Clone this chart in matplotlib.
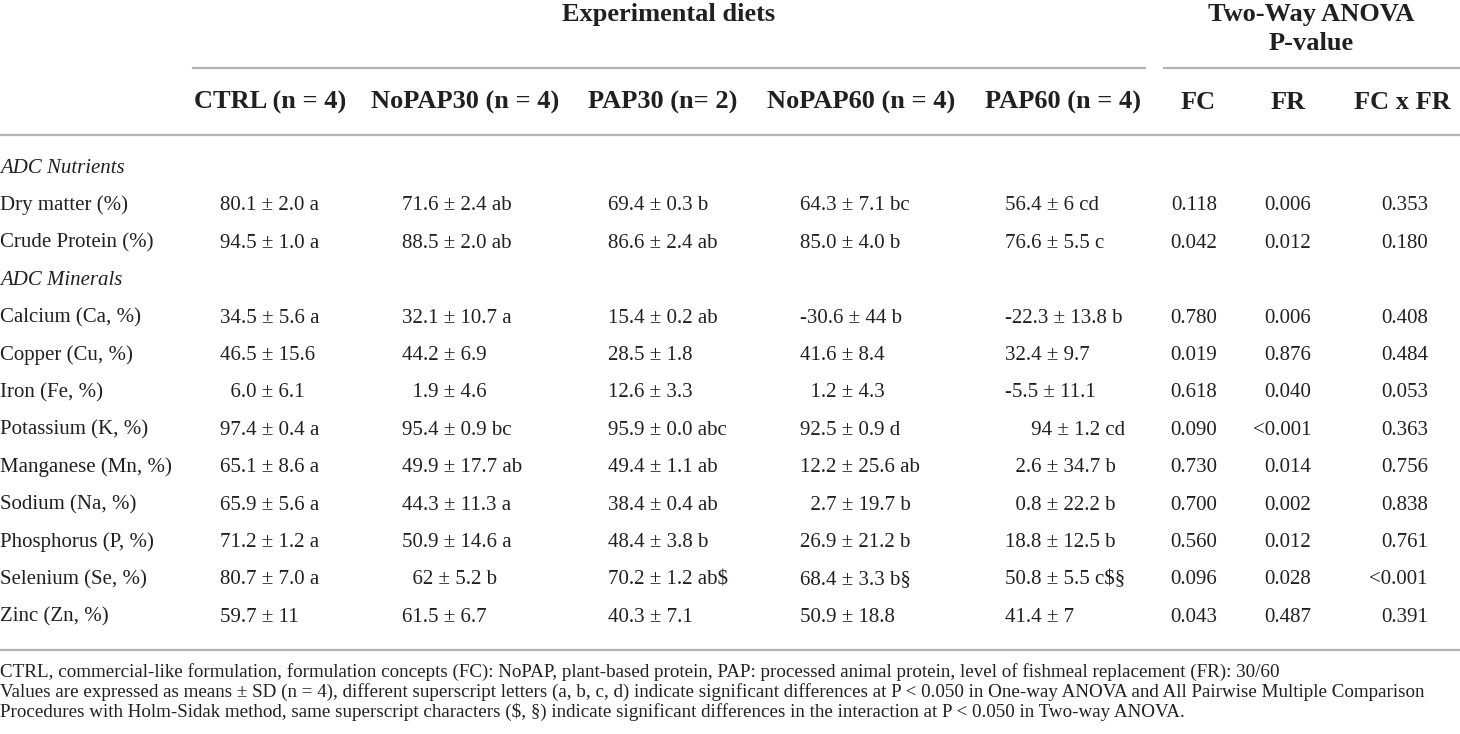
import matplotlib
matplotlib.use('Agg')
import matplotlib.pyplot as plt

plt.rcParams['font.family'] = ['Liberation Serif', 'DejaVu Serif']

group_headers = ['Experimental diets', 'Two-Way ANOVA', 'P-value']
col_headers = ['CTRL (n = 4)', 'NoPAP30 (n = 4)', 'PAP30 (n= 2)', 'NoPAP60 (n = 4)',
               'PAP60 (n = 4)', 'FC', 'FR', 'FC x FR']

row_labels = ['ADC Nutrients', 'Dry matter (%)', 'Crude Protein (%)', 'ADC Minerals',
              'Calcium (Ca, %)', 'Copper (Cu, %)', 'Iron (Fe, %)', 'Potassium (K, %)',
              'Manganese (Mn, %)', 'Sodium (Na, %)', 'Phosphorus (P, %)',
              'Selenium (Se, %)', 'Zinc (Zn, %)']
section_rows = ['ADC Nutrients', 'ADC Minerals']   # drawn in italics, no values

ctrl = ['80.1 ± 2.0 a', '94.5 ± 1.0 a', '34.5 ± 5.6 a', '46.5 ± 15.6', '  6.0 ± 6.1',
        '97.4 ± 0.4 a', '65.1 ± 8.6 a', '65.9 ± 5.6 a', '71.2 ± 1.2 a', '80.7 ± 7.0 a',
        '59.7 ± 11']
nopap30 = ['71.6 ± 2.4 ab', '88.5 ± 2.0 ab', '32.1 ± 10.7 a', '44.2 ± 6.9', '  1.9 ± 4.6',
           '95.4 ± 0.9 bc', '49.9 ± 17.7 ab', '44.3 ± 11.3 a', '50.9 ± 14.6 a',
           '  62 ± 5.2 b', '61.5 ± 6.7']
pap30 = ['69.4 ± 0.3 b', '86.6 ± 2.4 ab', '15.4 ± 0.2 ab', '28.5 ± 1.8', '12.6 ± 3.3',
         '95.9 ± 0.0 abc', '49.4 ± 1.1 ab', '38.4 ± 0.4 ab', '48.4 ± 3.8 b',
         '70.2 ± 1.2 ab$', '40.3 ± 7.1']
nopap60 = ['64.3 ± 7.1 bc', '85.0 ± 4.0 b', '-30.6 ± 44 b', '41.6 ± 8.4', '  1.2 ± 4.3',
           '92.5 ± 0.9 d', '12.2 ± 25.6 ab', '  2.7 ± 19.7 b', '26.9 ± 21.2 b',
           '68.4 ± 3.3 b§', '50.9 ± 18.8']
pap60 = ['56.4 ± 6 cd', '76.6 ± 5.5 c', '-22.3 ± 13.8 b', '32.4 ± 9.7', '-5.5 ± 11.1',
         '     94 ± 1.2 cd', '  2.6 ± 34.7 b', '  0.8 ± 22.2 b', '18.8 ± 12.5 b',
         '50.8 ± 5.5 c$§', '41.4 ± 7']
p_fc = ['0.118', '0.042', '0.780', '0.019', '0.618', '0.090', '0.730', '0.700',
        '0.560', '0.096', '0.043']
p_fr = ['0.006', '0.012', '0.006', '0.876', '0.040', '<0.001', '0.014', '0.002',
        '0.012', '0.028', '0.487']
p_fcxfr = ['0.353', '0.180', '0.408', '0.484', '0.053', '0.363', '0.756', '0.838',
           '0.761', '<0.001', '0.391']

footnotes = [
    'CTRL, commercial-like formulation, formulation concepts (FC): NoPAP, plant-based protein, '
    'PAP: processed animal protein, level of fishmeal replacement (FR): 30/60',
    'Values are expressed as means ± SD (n = 4), different superscript letters (a, b, c, d) '
    'indicate significant differences at P < 0.050 in One-way ANOVA and All Pairwise Multiple Comparison',
    'Procedures with Holm-Sidak method, same superscript characters ($, §) indicate significant '
    'differences in the interaction at P < 0.050 in Two-way ANOVA.',
]

# layout in pixel coordinates (y grows downward)
W, H = 1460, 734
text_color = '#231f20'
line_color = '#b4b4b4'
head_size = 19
body_size = 15
foot_size = 13.7

header_x = [270, 465, 663, 861, 1063, 1198, 1288, 1402]
value_x = [220, 402, 608, 800, 1005]   # left edges of the diet columns
pval_x = [1217, 1311, 1428]            # right edges of the p-value columns
row_base0, row_step = 173, 37.4        # baselines of the body rows

fig = plt.figure(figsize=(W / 100, H / 100), dpi=100)
ax = fig.add_axes([0, 0, 1, 1])
ax.set_xlim(0, W)
ax.set_ylim(H, 0)
ax.axis('off')


def put(x, y, s, ha='left', **kw):
    kw.setdefault('fontsize', body_size)
    ax.text(x, y, s, ha=ha, va='baseline', color=text_color, **kw)


# group headers and their rules
put(669, 21, group_headers[0], ha='center', fontsize=head_size, fontweight='bold')
put(1311, 21, group_headers[1], ha='center', fontsize=head_size, fontweight='bold')
put(1311, 50, group_headers[2], ha='center', fontsize=head_size, fontweight='bold')
ax.plot([193, 1145], [68, 68], color=line_color, lw=1.6)
ax.plot([1164, W], [68, 68], color=line_color, lw=1.6)

for x, label in zip(header_x, col_headers):
    put(x, 109, label, ha='center', fontsize=head_size, fontweight='bold')
ax.plot([0, W], [135, 135], color=line_color, lw=1.6)

diet_cols = [ctrl, nopap30, pap30, nopap60, pap60]
pval_cols = [p_fc, p_fr, p_fcxfr]

k = 0
for i, label in enumerate(row_labels):
    y = row_base0 + i * row_step
    if label in section_rows:
        put(0, y, label, style='italic')
        continue
    put(0, y, label)
    for x, col in zip(value_x, diet_cols):
        put(x, y, col[k])
    for x, col in zip(pval_x, pval_cols):
        put(x, y, col[k], ha='right')
    k += 1

ax.plot([0, W], [650, 650], color=line_color, lw=1.6)

for j, note in enumerate(footnotes):
    put(0, 677 + j * 20, note, fontsize=foot_size)

fig.savefig('out.png', dpi=100)
